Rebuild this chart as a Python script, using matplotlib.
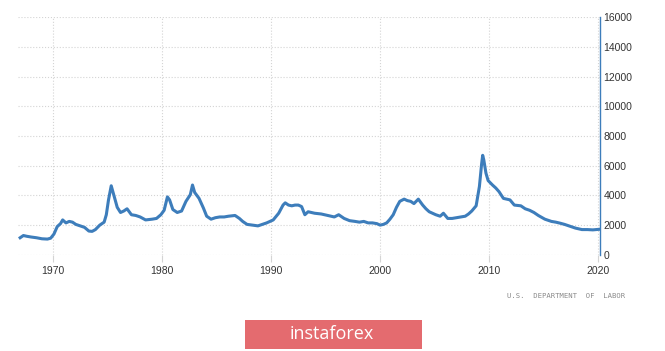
import matplotlib.pyplot as plt
from matplotlib.patches import Rectangle

# Continuing jobless claims (thousands)
years = [1967.0, 1967.3, 1967.6, 1968.0, 1968.5, 1969.0, 1969.5, 1969.8,
         1970.1, 1970.4, 1970.7, 1970.9, 1971.2, 1971.5, 1971.8, 1972.1,
         1972.5, 1972.9, 1973.3, 1973.6, 1973.9, 1974.3, 1974.7, 1974.9,
         1975.1, 1975.35, 1975.6, 1975.9, 1976.2, 1976.5, 1976.8, 1977.2,
         1977.6, 1978.0, 1978.5, 1979.1, 1979.5, 1979.9, 1980.2, 1980.5,
         1980.7, 1981.0, 1981.4, 1981.8, 1982.2, 1982.6, 1982.8, 1983.0,
         1983.4, 1983.8, 1984.1, 1984.5, 1984.9, 1985.3, 1985.7, 1986.1,
         1986.7, 1987.1, 1987.4, 1987.8, 1988.3, 1988.8, 1989.2, 1989.6,
         1990.2, 1990.7, 1991.1, 1991.3, 1991.6, 1991.9, 1992.2, 1992.5,
         1992.8, 1993.1, 1993.4, 1994.0, 1994.6, 1995.2, 1995.8, 1996.2,
         1996.7, 1997.2, 1997.7, 1998.1, 1998.5, 1998.9, 1999.3, 1999.7,
         2000.0, 2000.3, 2000.6, 2000.9, 2001.2, 2001.5, 2001.8, 2002.2,
         2002.5, 2002.8, 2003.1, 2003.5, 2003.9, 2004.2, 2004.5, 2005.1,
         2005.5, 2005.8, 2006.2, 2006.6, 2007.0, 2007.4, 2007.8, 2008.1,
         2008.4, 2008.8, 2009.1, 2009.3, 2009.4, 2009.5, 2009.7, 2009.9,
         2010.3, 2010.6, 2010.9, 2011.3, 2011.9, 2012.3, 2012.9, 2013.3,
         2013.7, 2014.1, 2014.5, 2015.1, 2015.7, 2016.1, 2016.5, 2016.9,
         2017.3, 2017.9, 2018.5, 2019.0, 2019.5, 2020.1]
claims = [1150, 1300, 1250, 1200, 1150, 1080, 1060, 1120,
          1400, 1900, 2100, 2350, 2150, 2250, 2200, 2050,
          1950, 1850, 1600, 1580, 1700, 2000, 2200, 2700,
          3700, 4650, 4000, 3200, 2850, 2950, 3100, 2700,
          2650, 2550, 2350, 2400, 2450, 2700, 3000, 3900,
          3700, 3050, 2850, 2950, 3600, 4050, 4700, 4200,
          3800, 3150, 2600, 2400, 2500, 2550, 2550, 2600,
          2650, 2450, 2250, 2050, 2000, 1950, 2050, 2150,
          2350, 2800, 3350, 3500, 3350, 3300, 3350, 3350,
          3250, 2700, 2900, 2800, 2750, 2650, 2550, 2700,
          2450, 2300, 2250, 2200, 2250, 2150, 2150, 2100,
          2000, 2050, 2150, 2400, 2700, 3200, 3600, 3750,
          3650, 3600, 3450, 3750, 3350, 3100, 2900, 2700,
          2600, 2800, 2450, 2450, 2500, 2550, 2600, 2750,
          2950, 3300, 4600, 6100, 6700, 6400, 5500, 5000,
          4700, 4500, 4250, 3800, 3700, 3350, 3300, 3100,
          3000, 2850, 2650, 2400, 2250, 2200, 2130, 2050,
          1950, 1800, 1700, 1700, 1680, 1720]

xticks = [1970, 1980, 1990, 2000, 2010, 2020]
yticks = [0, 2000, 4000, 6000, 8000, 10000, 12000, 14000, 16000]

fig = plt.figure(figsize=(6.65, 3.51), dpi=100)
ax = fig.add_axes([0.027, 0.274, 0.876, 0.677])

ax.plot(years, claims, color='#3d7dbb', linewidth=2.2, solid_joinstyle='round')

ax.set_xlim(1966.8, 2020.2)
ax.set_ylim(0, 16000)
ax.set_xticks(xticks)
ax.set_yticks(yticks)
ax.yaxis.tick_right()
ax.grid(True, color='#d4d4d4', linestyle=':', linewidth=0.8)
ax.set_axisbelow(True)

for s in ['left', 'top', 'bottom']:
    ax.spines[s].set_visible(False)
ax.spines['right'].set_color('#3d7dbb')
ax.spines['right'].set_linewidth(1.0)

ax.tick_params(axis='y', length=0, pad=2, labelsize=7.5, labelcolor='#333333')
ax.tick_params(axis='x', length=5, color='#d4d4d4', pad=3, labelsize=7.5, labelcolor='#333333')
for lab in ax.get_xticklabels() + ax.get_yticklabels():
    lab.set_family('Liberation Sans')

fig.text(0.94, 0.158, 'U.S.  DEPARTMENT  OF  LABOR', ha='right', va='center',
         fontsize=5.2, color='#8a8a8a', family='DejaVu Sans Mono')

# watermark box
fig.patches.append(Rectangle((245 / 665, 2 / 351), 177 / 665, 29 / 351,
                             transform=fig.transFigure, facecolor='#e46b6f',
                             edgecolor='none', zorder=1))
fig.text(332 / 665, 17 / 351, 'instaforex', ha='center', va='center',
         fontsize=13, color='white', family='Open Sans', zorder=5)

fig.savefig('out.png', dpi=100, facecolor='white')
